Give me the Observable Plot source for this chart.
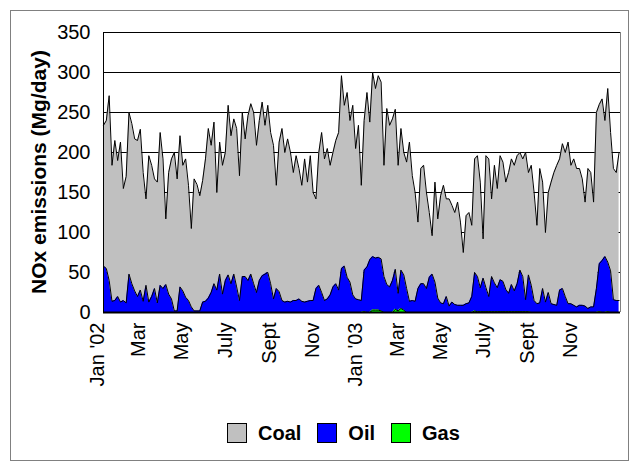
<!DOCTYPE html>
<html><head><meta charset="utf-8">
<script src="https://cdn.jsdelivr.net/npm/d3@7"></script>
<script src="https://cdn.jsdelivr.net/npm/@observablehq/plot@0.6"></script>
<style>
body{margin:0;background:#fff;}
#wrap{position:relative;width:632px;height:466px;overflow:hidden;font-family:Arial,"Liberation Sans",sans-serif;color:#000;}
#border{position:absolute;left:10px;top:10px;width:619px;height:451px;border:1px solid #808080;box-sizing:border-box;}
#chart{position:absolute;left:0;top:0;}
#title{position:absolute;left:-161px;top:159px;width:400px;text-align:center;font-weight:bold;font-size:21px;line-height:26px;transform:rotate(-90deg);transform-origin:200px 13px;white-space:nowrap;}
#legend{position:absolute;left:227px;top:423px;display:flex;align-items:center;font-weight:bold;font-size:20px;line-height:20px;}
.sw{width:18px;height:18px;border:1px solid #000;margin-right:11px;}
.lab{margin-right:16px;}
</style></head>
<body>
<div id="wrap">
  <div id="border"></div>
  <div id="chart"></div>
  <div id="title">NOx emissions (Mg/day)</div>
  <div id="legend"></div>
</div>
<script>
// ---- data (values every 4 days from 1 Jan 2002) ----
const startDate = "2002-01-01";
const stepDays = 4;
const coal = [176,185,231,170,200,170,200,140,158,202,
200,190,195,201,161,108,183,164,137,151,
191,162,82,152,175,198,165,189,157,173,
144,98,165,158,144,152,178,212,184,202,
122,165,161,160,212,185,194,198,156,205,
172,206,213,214,184,200,217,186,209,189,
192,129,187,215,187,203,187,160,181,163,
145,179,149,181,135,112,166,200,177,188,
162,168,179,197,241,201,231,202,237,188,
218,144,187,218,172,230,212,227,221,139,
220,202,202,200,160,177,153,158,199,156,
136,83,144,148,120,81,48,125,99,134,
148,122,134,121,115,129,104,66,110,113,
89,142,151,132,49,165,172,97,147,124,
155,149,134,151,157,157,160,147,147,184,
128,150,135,98,168,133,87,125,152,165,
175,164,181,180,202,173,183,173,171,158,
130,175,168,131,220,199,202,170,217,173,
164,160,185];
const oil = [58,55,40,14,15,20,13,15,12,48,
36,27,20,28,14,34,13,20,30,12,
34,30,35,23,17,2,2,32,27,19,
15,7,2,2,2,13,14,18,25,36,
28,48,23,40,47,36,48,32,15,45,
45,40,48,36,25,40,46,48,50,36,
17,30,26,15,13,14,13,15,15,17,
14,13,14,15,15,30,34,25,15,17,
22,32,36,28,55,58,44,38,22,17,
16,15,52,57,66,67,65,66,65,45,
35,32,40,50,22,48,44,30,14,15,
14,30,36,36,30,44,48,38,18,12,
11,20,8,13,10,9,9,9,11,12,
20,48,44,30,42,30,19,44,36,30,
40,38,28,23,34,26,35,52,44,15,
46,34,15,11,12,30,13,25,11,10,
9,28,30,20,11,11,9,7,9,9,
8,5,7,7,30,60,65,70,62,52,
16,15,15];
const gas = [0,0,0,0,0,0,0,0,0,0,
0,0,0,0,0,0,0,0,0,0,
0,0,0,0,0,0,0,0,0,0,
0,0,0,0,0,0,0,0,0,0,
0,0,0,0,0,0,0,0,0,0,
0,0,0,0,0,0,0,0,0,0,
0,0,0,0,0,0,0,0,0,0,
0,0,0,0,0,0,0,0,0,0,
0,0,0,0,0,0,0,0,0,0,
0,0,1,0,0,3,3,3,2,0,
0,0,0,4,2,5,3,0,0,0,
0,0,0,0,0,0,0,0,0,0,
0,0,0,0,0,0,0,0,0,0,
0,2,1,1,1,1,1,1,1,1,
1,1,1,1,1,1,1,1,1,1,
1,0,0,0,0,0,0,0,0,0,
0,0,0,0,0,0,0,0,0,0,
0,0,0,0,0,1,0,0,1,0,
0,0,0];
const seriesNames = ["Coal","Oil","Gas"];
const seriesColors = ["#C0C0C0","#0000FF","#00FF00"];
const stackOrder = ["Gas","Oil","Coal"];
const yTicks = [0,50,100,150,200,250,300,350];
const xTickDates = ["2002-01-01","2002-03-01","2002-05-01","2002-07-01","2002-09-01","2002-11-01",
                    "2003-01-01","2003-03-01","2003-05-01","2003-07-01","2003-09-01","2003-11-01"];
const xTickLabels = ["Jan '02","Mar","May","July","Sept","Nov","Jan '03","Mar","May","July","Sept","Nov"];
const xDomain = ["2002-01-01","2004-01-01"];

// ---- build table ----
const start = new Date(startDate + "T00:00:00Z");
const series = {Coal: coal, Oil: oil, Gas: gas};
const rows = [];
for (const name of seriesNames) {
  series[name].forEach((v, i) => rows.push({date: d3.utcDay.offset(start, i * stepDays), type: name, value: v}));
}
const xTicks = xTickDates.map((d, i) => ({date: new Date(d + "T00:00:00Z"), label: xTickLabels[i]}));
const font = "Arial, 'Liberation Sans', sans-serif";

const plot = Plot.plot({
  width: 632, height: 410,
  marginLeft: 103, marginRight: 12, marginTop: 32, marginBottom: 98,
  style: {fontFamily: font, background: "transparent", overflow: "visible", color: "#000"},
  x: {type: "utc", domain: xDomain.map(d => new Date(d + "T00:00:00Z")), axis: null},
  y: {domain: [0, 350], axis: null},
  color: {domain: seriesNames, range: seriesColors},
  marks: [
    Plot.ruleY(yTicks.filter(v => v > 0), {stroke: "#000", strokeWidth: 1}),
    Plot.areaY(rows, {x: "date", y: "value", fill: "type", order: stackOrder, curve: "linear"}),
    Plot.lineY(rows, Plot.stackY2({x: "date", y: "value", z: "type", order: stackOrder, stroke: "#000", strokeWidth: 1, curve: "linear"})),
    Plot.ruleX([new Date(xDomain[1] + "T00:00:00Z")], {stroke: "#808080"}),
    Plot.ruleX([new Date(xDomain[0] + "T00:00:00Z")], {stroke: "#000"}),
    Plot.ruleY([0], {stroke: "#000", strokeWidth: 2}),
    Plot.text(yTicks, {y: d => d, text: d => String(d), frameAnchor: "left", textAnchor: "end", dx: -13, fontSize: 20, fill: "#000"}),
    Plot.text(xTicks, {x: "date", text: "label", frameAnchor: "bottom", rotate: -90, textAnchor: "end", dy: 10, fontSize: 20, fill: "#000"})
  ]
});
document.getElementById("chart").appendChild(plot);

// ---- legend ----
const legend = document.getElementById("legend");
seriesNames.forEach((name, i) => {
  const sw = document.createElement("div");
  sw.className = "sw"; sw.style.background = seriesColors[i];
  const lab = document.createElement("div");
  lab.className = "lab"; lab.textContent = name;
  legend.appendChild(sw); legend.appendChild(lab);
});
</script>
</body></html>
